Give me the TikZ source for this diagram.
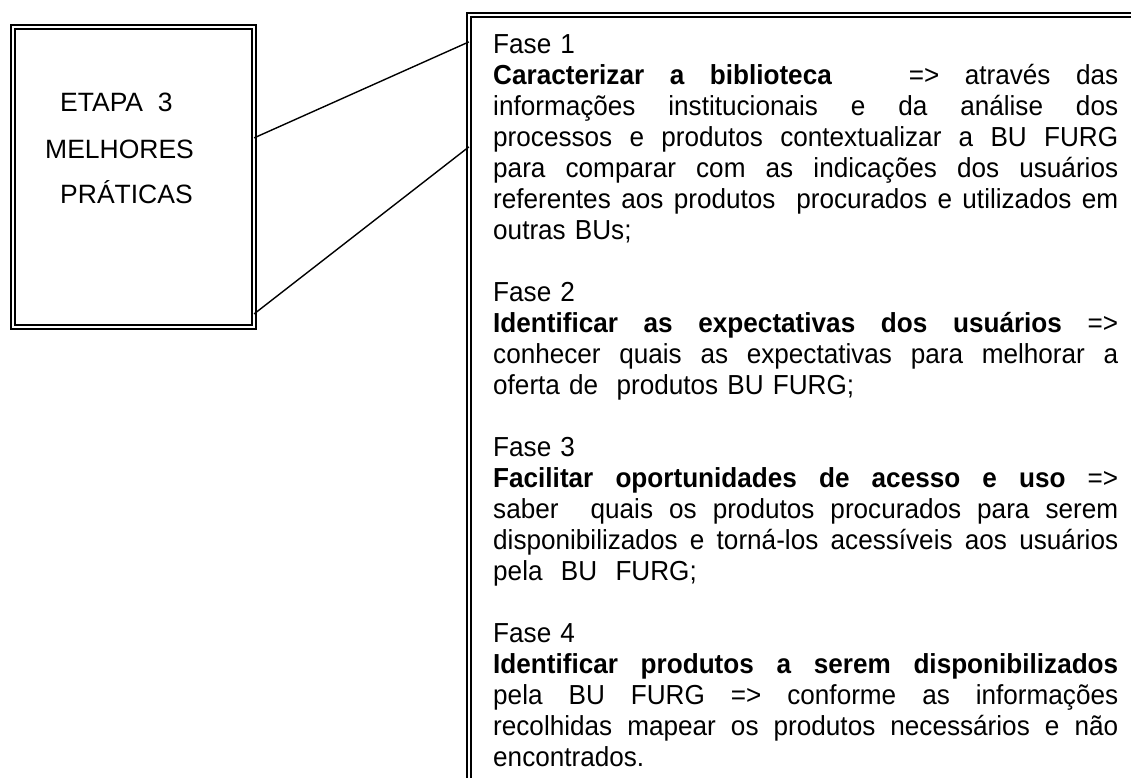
\documentclass[tikz,border=0pt]{standalone}
\usepackage{fontspec}
\setmainfont{Liberation Sans}
\newfontfamily\narrowfont[FakeStretch=0.95]{Liberation Sans}
\usetikzlibrary{
    positioning,
    calc
}
\tikzset{
  framebox/.style = {
      draw,
      double,
      line width=1.8pt,
      double distance=2.2pt,
      rectangle,
      inner sep=0pt,
      outer sep=0pt
  },
  etapa text/.style = {
      font=\fontsize{26.5}{30}\selectfont,
      anchor=base west,
      inner sep=0pt
  },
  fase text/.style = {
      font=\narrowfont\fontsize{27.5}{31}\selectfont,
      text width=625pt,
      align=left,
      anchor=north west,
      inner sep=0pt
  },
  link/.style = {
      line width=1.4pt
  }
}
% justified line of the text column
\newcommand{\jline}[1]{\makebox[625pt][s]{\spaceskip=0.278em plus 1fil\relax #1}}
% gap between two phases
\newcommand{\fasegap}{\\[31pt]}

\begin{document}
\begin{tikzpicture}[x=1pt, y=-1pt]
    \useasboundingbox (0,0) rectangle (1131,778);
    \clip (0,0) rectangle (1131,778);
    % Boxes
    \node[framebox, minimum width=241.2pt, minimum height=300.2pt, anchor=north west] (etapa box) at (12.9,26.9) {};
    \node[framebox, minimum width=700pt, minimum height=820pt, anchor=north west] (fases box) at (468.9,14.9) {};
    % Left texts
    \node[etapa text] (etapa) at (60,112) {ETAPA\ \ 3};
    \node[etapa text] (melhores) at (45,159) {MELHORES};
    \node[etapa text] (praticas) at (60,204) {PRÁTICAS};
    % Right text
    \node[fase text] (fases) at (493,34.3) {%
      Fase 1\\
      \jline{\textbf{Caracterizar a biblioteca}\ \ \ => através das}\\
      \jline{informações institucionais e da análise dos}\\
      \jline{processos e produtos contextualizar a BU FURG}\\
      \jline{para comparar com as indicações dos usuários}\\
      \jline{referentes aos produtos\ \ procurados e utilizados em}\\
      outras BUs;\fasegap
      Fase 2\\
      \jline{\textbf{Identificar as expectativas dos usuários} =>}\\
      \jline{conhecer quais as expectativas para melhorar a}\\
      oferta de\ \ produtos BU FURG;\fasegap
      Fase 3\\
      \jline{\textbf{Facilitar oportunidades de acesso e uso} =>}\\
      \jline{saber\ \ quais os produtos procurados para serem}\\
      \jline{disponibilizados e torná-los acessíveis aos usuários}\\
      pela\ \ BU\ \ FURG;\fasegap
      Fase 4\\
      \jline{\textbf{Identificar produtos a serem disponibilizados}}\\
      \jline{pela BU FURG => conforme as informações}\\
      \jline{recolhidas mapear os produtos necessários e não}\\
      encontrados.};
    % Connectors
    \coordinate (a1) at ($(etapa box.north east)+(0,111)$);
    \coordinate (a2) at ($(etapa box.north east)+(0,287)$);
    \coordinate (b1) at ($(fases box.north west)+(0,27)$);
    \coordinate (b2) at ($(fases box.north west)+(0,132)$);
    \path[draw, link]
    (a1) edge (b1)
    (a2) edge (b2);
\end{tikzpicture}
\end{document}
